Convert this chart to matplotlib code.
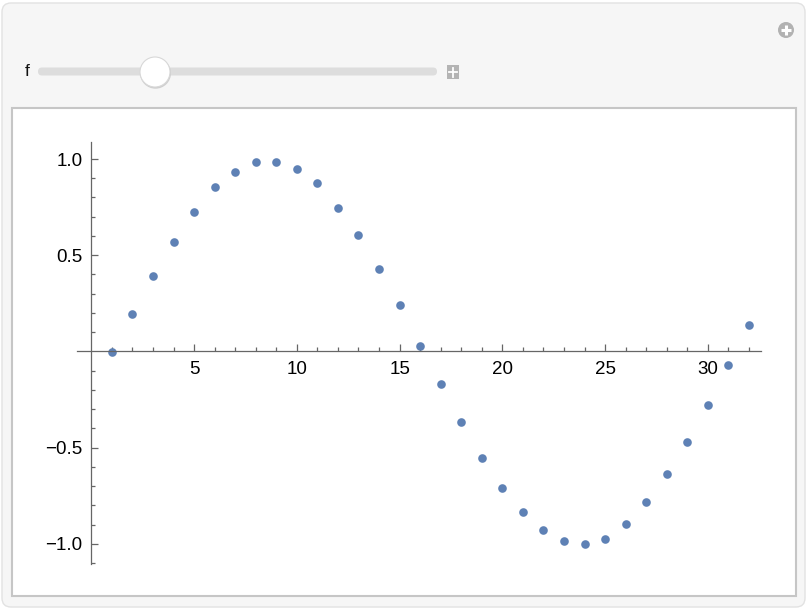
import numpy as np
import matplotlib.pyplot as plt
from matplotlib.patches import FancyBboxPatch, Circle, Rectangle

plt.rcParams['font.family'] = ['Liberation Sans', 'DejaVu Sans']

# values
x = list(range(1, 33))
y = [-0.005, 0.193, 0.39, 0.568, 0.724, 0.854, 0.932, 0.984, 0.984, 0.948,
     0.875, 0.745, 0.604, 0.427, 0.24, 0.026, -0.167, -0.365, -0.552, -0.708,
     -0.833, -0.927, -0.984, -1.0, -0.974, -0.896, -0.781, -0.635, -0.469, -0.281,
     -0.073, 0.135]
xticks_major = [5, 10, 15, 20, 25, 30]
yticks_major = [-1.0, -0.5, 0.5, 1.0]
ytick_labels = ['\u22121.0', '\u22120.5', '0.5', '1.0']

W, H = 808, 614
fig = plt.figure(figsize=(W / 100, H / 100), dpi=100)
fig.patch.set_facecolor('white')

# the Manipulate panel, drawn in pixel coordinates
bg = fig.add_axes([0, 0, 1, 1])
bg.set_xlim(0, W)
bg.set_ylim(H, 0)
bg.axis('off')
bg.add_patch(FancyBboxPatch((2, 3), 803, 604, boxstyle='round,pad=0,rounding_size=9',
                            fc='#f6f6f6', ec='#e2e2e2', lw=1))
bg.add_patch(Rectangle((12, 108), 784, 488, fc='white', ec='#c6c6c6', lw=1.5))

# slider
bg.text(27, 72, 'f', fontsize=12.5, ha='center', va='center', color='#111111')
bg.add_patch(FancyBboxPatch((38, 67.5), 399, 8, boxstyle='round,pad=0,rounding_size=4',
                            fc='#dddddd', ec='none'))
bg.add_patch(Circle((155.5, 73.2), 15.5, fc='#cfcfcf', ec='none'))
bg.add_patch(Circle((155, 72), 15, fc='white', ec='#d8d8d8', lw=0.8))
bg.add_patch(Rectangle((447, 65), 12, 14, fc='#b4b4b4', ec='none'))
bg.plot([453, 453], [67.5, 76.5], color='white', lw=1.3)
bg.plot([449, 457], [72, 72], color='white', lw=1.3)

# top-right icon
bg.add_patch(Circle((786, 30), 8, fc='#b2b2b2', ec='none'))
bg.plot([786, 786], [25, 35], color='white', lw=2.2, solid_capstyle='butt')
bg.plot([781, 791], [30, 30], color='white', lw=2.2, solid_capstyle='butt')

# the plot
left, right, top, bottom = 76.7, 760.7, 141.7, 564
ax = fig.add_axes([left / W, 1 - bottom / H, (right - left) / W, (bottom - top) / H])
ax.set_facecolor('none')
ax.plot(x, y, 'o', color='#5e81b5', ms=6.2, mew=0, clip_on=False)

ax.set_xlim(-0.71, 32.57)
ax.set_ylim(-1.105, 1.09)

for s in ['top', 'right']:
    ax.spines[s].set_visible(False)
ax.spines['left'].set_position(('data', 0))
ax.spines['bottom'].set_position(('data', 0))
for s in ['left', 'bottom']:
    ax.spines[s].set_color('#666666')
    ax.spines[s].set_linewidth(0.9)

ax.set_xticks(xticks_major)
ax.set_xticks([i for i in range(1, 33) if i % 5 != 0], minor=True)
ax.set_yticks(yticks_major)
ax.set_yticklabels(ytick_labels)
yminor = [round(v / 10, 1) for v in range(-11, 11) if v % 5 != 0]
ax.set_yticks(yminor, minor=True)

ax.tick_params(which='both', direction='in', color='#666666', width=0.9,
               labelsize=13.5, labelcolor='black')
ax.tick_params(which='major', length=5)
ax.tick_params(which='minor', length=3.2)
ax.tick_params(axis='x', pad=7)
ax.tick_params(axis='y', pad=6.5)

fig.savefig('out.png', dpi=100, facecolor=fig.get_facecolor())
